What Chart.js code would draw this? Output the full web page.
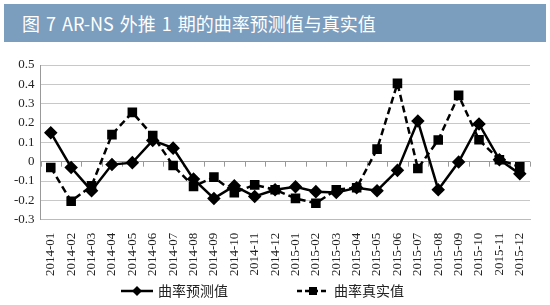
<!DOCTYPE html>
<html>
<head>
<meta charset="utf-8">
<script src="https://cdn.jsdelivr.net/npm/chart.js@4"></script>
<style>
  body { margin: 0; background: #fff; width: 550px; height: 305px; overflow: hidden; position: relative; }
  #title {
    position: absolute; left: 4px; top: 4px; width: 542px; height: 38px;
    background: #7b9dbe; color: #fff;
    font-family: "Noto Sans CJK SC", sans-serif; font-size: 18px;
    line-height: 38px; padding-left: 18px; box-sizing: border-box; word-spacing: 2px;
  }
  #wrap { position: absolute; left: 0; top: 45px; width: 550px; height: 238px; }
  #legend { position: absolute; top: 281px; left: 0; width: 550px; height: 18px;
    font-family: "Noto Sans CJK SC", sans-serif; font-size: 14px; color: #222; }
  #legend span.item { position: absolute; top: 0; line-height: 18px; white-space: nowrap; }
  #legend canvas { vertical-align: middle; margin-right: 4px; position: relative; top: -1px; }
</style>
</head>
<body>
<div id="title">图 7 AR-NS 外推 1 期的曲率预测值与真实值</div>
<div id="wrap"><canvas id="chart"></canvas></div>
<div id="legend"></div>
<script>
var months = ['2014-01','2014-02','2014-03','2014-04','2014-05','2014-06','2014-07','2014-08','2014-09','2014-10','2014-11','2014-12',
              '2015-01','2015-02','2015-03','2015-04','2015-05','2015-06','2015-07','2015-08','2015-09','2015-10','2015-11','2015-12'];
var predicted = [0.15, -0.03, -0.15, -0.015, -0.005, 0.11, 0.07, -0.09, -0.19, -0.125, -0.18, -0.145,
                 -0.13, -0.155, -0.16, -0.135, -0.15, -0.045, 0.21, -0.145, -0.002, 0.195, 0.01, -0.063];
var actual = [-0.03, -0.205, -0.125, 0.14, 0.255, 0.135, -0.02, -0.128, -0.08, -0.16, -0.12, -0.145,
              -0.19, -0.215, -0.145, -0.135, 0.065, 0.405, -0.035, 0.112, 0.343, 0.113, 0.01, -0.027];
var seriesNames = ['曲率预测值', '曲率真实值'];

// little legend picture: line + marker
function legendIcon(dashed, marker) {
  var c = document.createElement('canvas');
  c.width = 34; c.height = 12;
  var g = c.getContext('2d');
  g.strokeStyle = '#000'; g.lineWidth = 2.5;
  if (dashed) g.setLineDash([5, 3]);
  g.beginPath(); g.moveTo(1, 6); g.lineTo(33, 6); g.stroke();
  g.fillStyle = '#000';
  if (marker === 'diamond') {
    g.beginPath(); g.moveTo(17, 1); g.lineTo(22, 6); g.lineTo(17, 11); g.lineTo(12, 6); g.closePath(); g.fill();
  } else {
    g.fillRect(13, 2, 8, 8);
  }
  return c;
}

// legend under the chart
var legendX = [120, 296];
seriesNames.forEach(function(name, i) {
  var item = document.createElement('span');
  item.className = 'item';
  item.style.left = legendX[i] + 'px';
  item.appendChild(legendIcon(i === 1, i === 0 ? 'diamond' : 'square'));
  item.appendChild(document.createTextNode(name));
  document.getElementById('legend').appendChild(item);
});

// excel-like tick marks on the zero line
var zeroTicks = {
  id: 'zeroTicks',
  beforeDatasetsDraw: function(chart) {
    var x = chart.scales.x, y = chart.scales.y, ctx = chart.ctx;
    var y0 = y.getPixelForValue(0);
    var step = (x.right - x.left) / months.length;
    ctx.save();
    ctx.strokeStyle = '#999';
    ctx.lineWidth = 1;
    for (var i = 0; i <= months.length; i++) {
      var px = Math.round(x.left + i * step) + 0.5;
      ctx.beginPath(); ctx.moveTo(px, y0); ctx.lineTo(px, y0 + 5); ctx.stroke();
    }
    ctx.restore();
  }
};

var ctx = document.getElementById('chart').getContext('2d');
var chart = new Chart(ctx, {
  type: 'line',
  data: {
    labels: months,
    datasets: [{
      label: seriesNames[0],
      data: predicted,
      borderColor: '#000',
      backgroundColor: '#000',
      borderWidth: 2.5,
      pointStyle: 'rectRot',
      pointRadius: 5,
      tension: 0
    }, {
      label: seriesNames[1],
      data: actual,
      borderColor: '#000',
      backgroundColor: '#000',
      borderWidth: 2.5,
      borderDash: [7, 4],
      pointStyle: 'rect',
      pointRadius: 5,
      tension: 0
    }]
  },
  options: {
    responsive: true,
    maintainAspectRatio: false,
    animation: false,
    layout: { padding: { left: 8, right: 20, top: 20, bottom: 2 } },
    scales: {
      x: {
        offset: true,
        grid: { display: false },
        border: { color: '#bbb' },
        ticks: {
          autoSkip: false, maxRotation: 90, minRotation: 90, padding: 5,
          color: '#222', font: { family: 'Liberation Serif', size: 13 }
        }
      },
      y: {
        min: -0.3, max: 0.5,
        border: { color: '#999' },
        grid: {
          color: function(c) { return c.tick && Math.abs(c.tick.value) < 1e-9 ? '#999' : '#c8c8c8'; },
          drawTicks: false
        },
        ticks: {
          stepSize: 0.1, padding: 6,
          color: '#222', font: { family: 'Liberation Serif', size: 13 },
          callback: function(v) { return String(Number(v.toFixed(1))); }
        }
      }
    },
    plugins: {
      legend: { display: false },
      tooltip: { enabled: false }
    }
  },
  plugins: [zeroTicks]
});
</script>
</body>
</html>
